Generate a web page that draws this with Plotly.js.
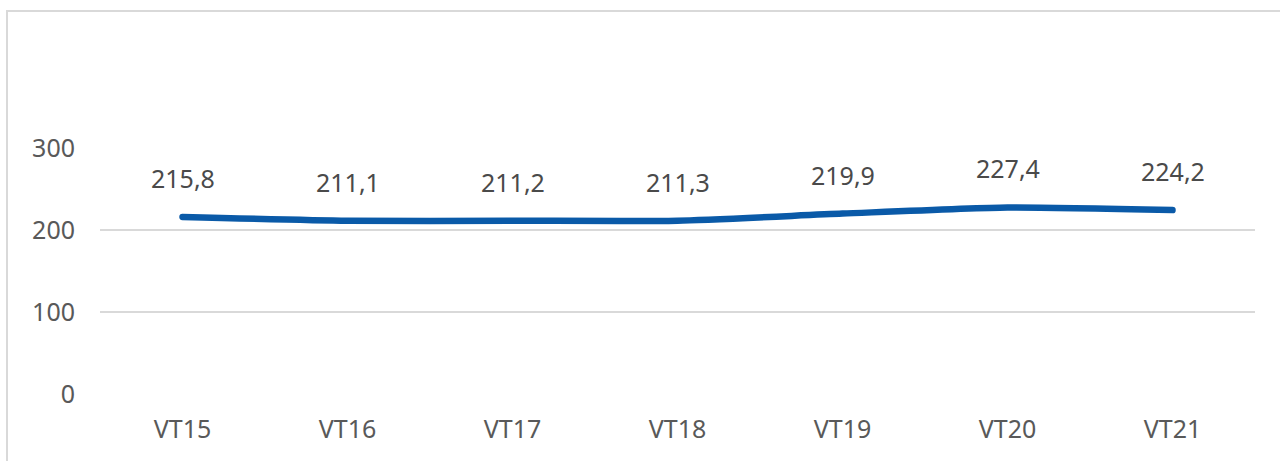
<!DOCTYPE html>
<html>
<head>
<meta charset="utf-8">
<script src="https://cdn.plot.ly/plotly-3.0.1.min.js"></script>
<style>
  html, body { margin: 0; padding: 0; background: #fff; overflow: hidden; }
  #wrap { position: relative; width: 1280px; height: 461px; }
  #chart { position: absolute; left: 0; top: 0; width: 1280px; height: 461px; }
  #frame { position: absolute; left: 6px; top: 10px; width: 1300px; height: 500px;
           border: 2px solid #d9d9d9; box-sizing: border-box; pointer-events: none; }
  #chart .js-line { stroke-linecap: round; stroke-linejoin: round; }
</style>
</head>
<body>
<div id="wrap">
  <div id="chart"></div>
  <div id="frame"></div>
</div>
<script>
const categories = ["VT15", "VT16", "VT17", "VT18", "VT19", "VT20", "VT21"];
const values = [215.8, 211.1, 211.2, 211.3, 219.9, 227.4, 224.2];
const valueLabels = ["215,8", "211,1", "211,2", "211,3", "219,9", "227,4", "224,2"];
const yTicks = [0, 100, 200, 300];

const FONT = '"Noto Sans", "DejaVu Sans", sans-serif';

const trace = {
  x: categories,
  y: values,
  type: 'scatter',
  mode: 'lines',
  line: { color: '#0A5AA8', width: 6.5, shape: 'spline', smoothing: 0.6 },
  hoverinfo: 'skip'
};

const annotations = categories.map((c, i) => ({
  x: c, y: values[i], xref: 'x', yref: 'y',
  text: valueLabels[i], showarrow: false,
  yshift: 39, yanchor: 'middle', xanchor: 'center',
  font: { family: FONT, size: 25, color: '#4a4a4a' }
}));

const layout = {
  width: 1280, height: 461,
  margin: { l: 100, r: 25, t: 147, b: 66, pad: 0 },
  paper_bgcolor: '#ffffff',
  plot_bgcolor: '#ffffff',
  showlegend: false,
  xaxis: {
    type: 'category',
    range: [-0.5, 6.5],
    showgrid: false, zeroline: false, showline: false,
    ticks: '',
    ticklabelstandoff: 17,
    tickfont: { family: FONT, size: 25, color: '#595959' },
    fixedrange: true
  },
  yaxis: {
    range: [-1, 301],
    tickvals: yTicks,
    ticktext: yTicks.map(String),
    showgrid: true, gridcolor: '#d9d9d9', gridwidth: 2,
    zeroline: false, showline: false,
    ticks: '',
    ticklabelstandoff: 24,
    tickfont: { family: FONT, size: 25, color: '#595959' },
    fixedrange: true
  },
  annotations: annotations
};

Plotly.newPlot('chart', [trace], layout, { displayModeBar: false, staticPlot: true });
</script>
</body>
</html>
